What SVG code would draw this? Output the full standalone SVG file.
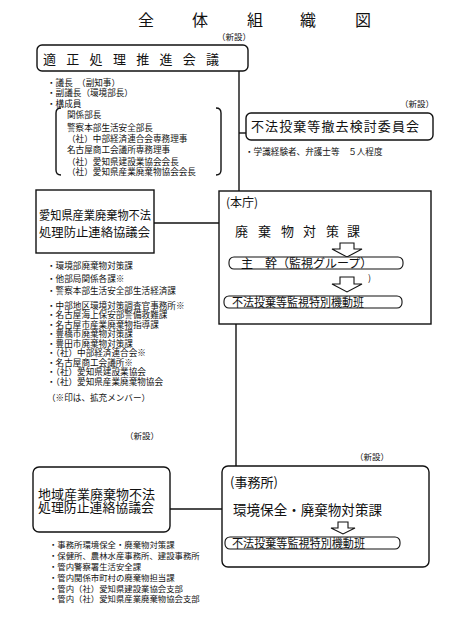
<svg xmlns="http://www.w3.org/2000/svg" width="471" height="627" viewBox="0 0 471 627">
<style>
text{font-family:"Noto Sans CJK JP","Noto Sans",sans-serif;fill:#111}
.box{fill:#fff;stroke:#111;stroke-width:1.4}
.pill{fill:#fff;stroke:#111;stroke-width:1.1}
.ln{stroke:#111;stroke-width:1.4;fill:none}
.arr{fill:#fff;stroke:#111;stroke-width:1.1}
.s{font-size:8.6px}
.t{font-size:8.4px}
.n{font-size:8.5px}
</style>
<rect width="471" height="627" fill="#fff"/>
<text id="title" font-size="16" x="138 192 247 300 355" y="26">全体組織図</text>
<text class="n" x="217" y="40">（新設）</text>
<g id="connectors">
<line class="ln" x1="239" y1="71" x2="239" y2="191"/>
<line class="ln" x1="239" y1="133" x2="246" y2="133"/>
<line class="ln" x1="154" y1="223" x2="219" y2="223"/>
<line class="ln" x1="236" y1="324" x2="236" y2="466"/>
<line class="ln" x1="170" y1="509" x2="222" y2="509"/>
</g>
<g id="kaigi">
<rect class="box" x="37" y="45" width="211" height="26" rx="5" stroke-width="1.6"/>
<text font-size="13" x="43" y="63.5" letter-spacing="10.3">適正処理推進会議</text>
</g>
<g id="kaigi-members" class="s">
<text x="47" y="85.5">・議長　（副知事）</text>
<text x="47" y="95.5">・副議長（環境部長）</text>
<text x="47" y="107">・構成員</text>
<path class="ln" stroke-width="1" d="M61 108 Q56 108 56 113 V170 Q56 175 61 175"/>
<path class="ln" stroke-width="1" d="M216 108 Q221 108 221 113 V170 Q221 175 216 175"/>
<text x="67" y="117.5">関係部長</text>
<text x="67" y="130.5">警察本部生活安全部長</text>
<text x="67" y="141.5">（社）中部経済連合会専務理事</text>
<text x="67" y="153">名古屋商工会議所専務理事</text>
<text x="67" y="164.5">（社）愛知県建設業協会会長</text>
<text x="67" y="175">（社）愛知県産業廃棄物協会会長</text>
</g>
<text class="n" x="400" y="107">（新設）</text>
<g id="tekkyo">
<rect class="box" x="246" y="113" width="187" height="27" rx="5" stroke-width="1.6"/>
<text font-size="13" x="251" y="131" textLength="168" lengthAdjust="spacing">不法投棄等撤去検討委員会</text>
<text class="s" x="245" y="154.5">・学識経験者、弁護士等　５人程度</text>
</g>
<g id="aichi-kyogikai">
<rect class="box" x="36" y="190" width="118" height="63" stroke-width="2"/>
<text font-size="12.5" x="39" y="220" textLength="112" lengthAdjust="spacingAndGlyphs">愛知県産業廃棄物不法</text>
<text font-size="12.5" x="39" y="237" textLength="111" lengthAdjust="spacingAndGlyphs">処理防止連絡協議会</text>
</g>
<g id="aichi-members" class="s">
<text x="47" y="268.5">・環境部廃棄物対策課</text>
<text x="47" y="281.5">・他部局関係各課※</text>
<text x="47" y="293.5">・警察本部生活安全部生活経済課</text>
<text x="47" y="308.5">・中部地区環境対策調査官事務所※</text>
<text x="47" y="318">・名古屋海上保安部警備救難課</text>
<text x="47" y="327.5">・名古屋市産業廃棄物指導課</text>
<text x="47" y="337">・豊橋市廃棄物対策課</text>
<text x="47" y="346.5">・豊田市廃棄物対策課</text>
<text x="47" y="356">・（社）中部経済連合会※</text>
<text x="47" y="365.5">・名古屋商工会議所※</text>
<text x="47" y="375">・（社）愛知県建設業協会</text>
<text x="47" y="384.5">・（社）愛知県産業廃棄物協会</text>
<text x="47" y="400.5">（※印は、拡充メンバー）</text>
</g>
<g id="honcho">
<rect class="box" x="219" y="191" width="212" height="133"/>
<text font-size="12" x="226" y="207">(本庁)</text>
<text font-size="13" x="235 258 281 303 326 347" y="236">廃棄物対策課</text>
<polygon class="arr" points="340,243 354,243 354,249 362,249 347,257 332,249 340,249"/>
<rect class="pill" x="229" y="257" width="174" height="12" rx="5"/>
<text font-size="12" x="241" y="267.5">主　幹（監視グループ）</text>
<text font-size="9" x="368" y="281">)</text>
<polygon class="arr" points="340,277 354,277 354,284 362,284 347,292 332,284 340,284"/>
<rect class="pill" x="224" y="296" width="178" height="12" rx="5"/>
<text font-size="12" x="232" y="306.5" textLength="132" lengthAdjust="spacingAndGlyphs">不法投棄等監視特別機動班</text>
</g>
<text class="n" x="125" y="439">（新設）</text>
<text class="n" x="355" y="460">（新設）</text>
<g id="chiiki-kyogikai">
<rect class="box" x="33" y="467" width="137" height="65" rx="6"/>
<text font-size="13" x="38" y="498.5" textLength="117" lengthAdjust="spacingAndGlyphs">地域産業廃棄物不法</text>
<text font-size="13" x="38" y="512" textLength="116" lengthAdjust="spacingAndGlyphs">処理防止連絡協議会</text>
</g>
<g id="chiiki-members" class="t">
<text x="49" y="548">・事務所環境保全・廃棄物対策課</text>
<text x="49" y="559">・保健所、農林水産事務所、建設事務所</text>
<text x="49" y="570">・管内警察署生活安全課</text>
<text x="49" y="581">・管内関係市町村の廃棄物担当課</text>
<text x="49" y="591.5">・管内（社）愛知県建設業協会支部</text>
<text x="49" y="602">・管内（社）愛知県産業廃棄物協会支部</text>
</g>
<g id="jimusho">
<rect class="box" x="222" y="466" width="207" height="101" rx="6"/>
<text font-size="13" x="230" y="487">(事務所)</text>
<text font-size="13.5" x="233" y="515" textLength="149" lengthAdjust="spacingAndGlyphs">環境保全・廃棄物対策課</text>
<polygon class="arr" points="338,522 348,522 348,528 355,528 343,534 331,528 338,528"/>
<rect class="pill" x="225" y="537" width="175" height="12" rx="5"/>
<text font-size="12" x="232" y="547.5" textLength="133" lengthAdjust="spacingAndGlyphs">不法投棄等監視特別機動班</text>
</g>
</svg>
